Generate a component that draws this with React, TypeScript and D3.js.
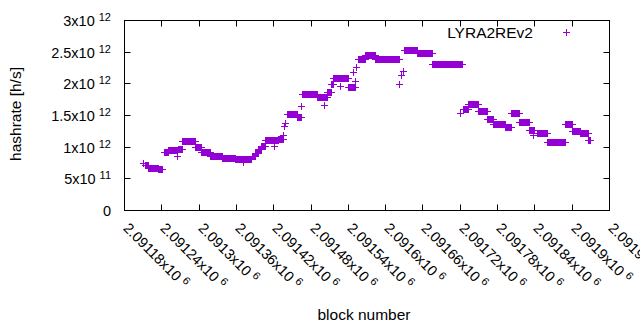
import React from 'react'
import * as d3 from 'd3'

// runs of consecutive blocks that share one hashrate estimate (h/s, x1e12)
const runFirstBlock = [
  2091210, 2091214, 2091219, 2091235, 2091244, 2091251, 2091265, 2091267, 2091273, 2091294,
  2091304, 2091318, 2091337, 2091358, 2091371, 2091386, 2091391, 2091396, 2091401, 2091407,
  2091421, 2091427, 2091435, 2091437, 2091439, 2091442, 2091458, 2091465, 2091467, 2091490,
  2091501, 2091506, 2091513, 2091516, 2091527, 2091541, 2091551, 2091549, 2091553, 2091556,
  2091567, 2091583, 2091623, 2091625, 2091628, 2091631, 2091651, 2091675, 2091721, 2091725,
  2091734, 2091750, 2091763, 2091773, 2091792, 2091802, 2091815, 2091832, 2091837, 2091845,
  2091860, 2091890, 2091900, 2091913, 2091926,
]
const runLastBlock = [
  2091210, 2091219, 2091235, 2091241, 2091251, 2091265, 2091265, 2091273, 2091294, 2091304,
  2091318, 2091337, 2091358, 2091384, 2091371, 2091391, 2091396, 2091401, 2091407, 2091427,
  2091421, 2091435, 2091435, 2091437, 2091439, 2091458, 2091465, 2091465, 2091490, 2091506,
  2091501, 2091513, 2091516, 2091540, 2091527, 2091551, 2091551, 2091549, 2091553, 2091567,
  2091583, 2091623, 2091623, 2091625, 2091628, 2091651, 2091675, 2091723, 2091721, 2091734,
  2091750, 2091763, 2091773, 2091792, 2091802, 2091815, 2091832, 2091840, 2091837, 2091860,
  2091889, 2091900, 2091913, 2091926, 2091930,
]
const runHashrate = [
  0.746, 0.707, 0.668, 0.644, 0.911, 0.942, 0.848, 0.966, 1.084, 0.997,
  0.914, 0.856, 0.817, 0.801, 0.762, 0.848, 0.903, 0.958, 1.013, 1.107,
  1.013, 1.123, 1.186, 1.327, 1.379, 1.508, 1.469, 1.641, 1.825, 1.783,
  1.657, 1.869, 1.987, 2.089, 1.956, 1.94, 2.034, 2.175, 2.254, 2.387,
  2.453, 2.391, 1.982, 2.139, 2.191, 2.532, 2.485, 2.312, 1.536, 1.594,
  1.668, 1.558, 1.437, 1.363, 1.312, 1.527, 1.395, 1.264, 1.186, 1.213,
  1.081, 1.354, 1.249, 1.213, 1.107,
]

const xTickBlocks = [
  2091180, 2091240, 2091300, 2091360, 2091420, 2091480, 2091540,
  2091600, 2091660, 2091720, 2091780, 2091840, 2091900, 2091960,
]
const xTickLabels = [
  '2.09118', '2.09124', '2.0913', '2.09136', '2.09142', '2.09148', '2.09154',
  '2.0916', '2.09166', '2.09172', '2.09178', '2.09184', '2.0919', '2.09196',
]
const yTickValues = [0, 0.5e12, 1e12, 1.5e12, 2e12, 2.5e12, 3e12]
const yTickMantissa = ['0', '5', '1', '1.5', '2', '2.5', '3']
const yTickExponent = ['', '11', '12', '12', '12', '12', '12']

const seriesName = 'LYRA2REv2'
const purple = '#9400d3'
const font = '"Liberation Sans", Arial, sans-serif'

const snap = (v: number) => Math.round(v - 0.5) + 0.5

const App: React.FunctionComponent = () => {
  const width = 640
  const height = 330
  const plot = { left: 124.5, right: 609.5, top: 20.5, bottom: 210.5 }

  const xScale = d3
    .scaleLinear()
    .domain([xTickBlocks[0], xTickBlocks[xTickBlocks.length - 1]])
    .range([plot.left, plot.right])
  const yScale = d3
    .scaleLinear()
    .domain([0, 3e12])
    .range([plot.bottom, plot.top])

  const points: { block: number; rate: number }[] = []
  runFirstBlock.forEach((first, i) => {
    for (let b = first; b <= runLastBlock[i]; b++) {
      points.push({ block: b, rate: runHashrate[i] * 1e12 })
    }
  })

  const cross = (cx: number, cy: number) =>
    `M${cx - 3.5},${cy}H${cx + 3.5}M${cx},${cy - 3.5}V${cy + 3.5}`

  const markerPath = points
    .map(p => cross(snap(xScale(p.block)), snap(yScale(p.rate))))
    .join('')

  return (
    <svg
      width={width}
      height={height}
      style={{ position: 'absolute', left: 0, top: 0, background: '#fff' }}
      fontFamily={font}
    >
      <rect width={width} height={height} fill="#fff" />

      {yTickValues.map((v, i) => {
        const ty = snap(yScale(v))
        return (
          <g key={'y' + i}>
            <line x1={plot.left} x2={plot.left + 6} y1={ty} y2={ty} stroke="#000" />
            <line x1={plot.right} x2={plot.right - 6} y1={ty} y2={ty} stroke="#000" />
            <text x={111} y={ty + 5} textAnchor="end" fontSize={14.5}>
              {yTickExponent[i] ? yTickMantissa[i] + 'x10' : yTickMantissa[i]}
              {yTickExponent[i] && (
                <tspan dx={4} dy={-5} fontSize={11}>
                  {yTickExponent[i]}
                </tspan>
              )}
            </text>
          </g>
        )
      })}

      {xTickBlocks.map((b, i) => {
        const tx = snap(xScale(b))
        return (
          <g key={'x' + i}>
            <line x1={tx} x2={tx} y1={plot.bottom} y2={plot.bottom - 6} stroke="#000" />
            <line x1={tx} x2={tx} y1={plot.top} y2={plot.top + 6} stroke="#000" />
            <text transform={`translate(${tx - 2},229) rotate(45)`} fontSize={14.5}>
              {xTickLabels[i] + 'x10'}
              <tspan dx={4} dy={-5} fontSize={11}>
                6
              </tspan>
            </text>
          </g>
        )
      })}

      <rect
        x={plot.left}
        y={plot.top}
        width={plot.right - plot.left}
        height={plot.bottom - plot.top}
        fill="none"
        stroke="#000"
      />

      <path d={markerPath} stroke={purple} strokeWidth={1} fill="none" />

      <text x={533} y={38} textAnchor="end" fontSize={15.5}>
        {seriesName}
      </text>
      <path d={cross(566.5, 32.5)} stroke={purple} fill="none" />

      <text transform="translate(21,114) rotate(-90)" textAnchor="middle" fontSize={15.5}>
        hashrate [h/s]
      </text>
      <text x={364} y={320} textAnchor="middle" fontSize={15.5}>
        block number
      </text>
    </svg>
  )
}

export default App
